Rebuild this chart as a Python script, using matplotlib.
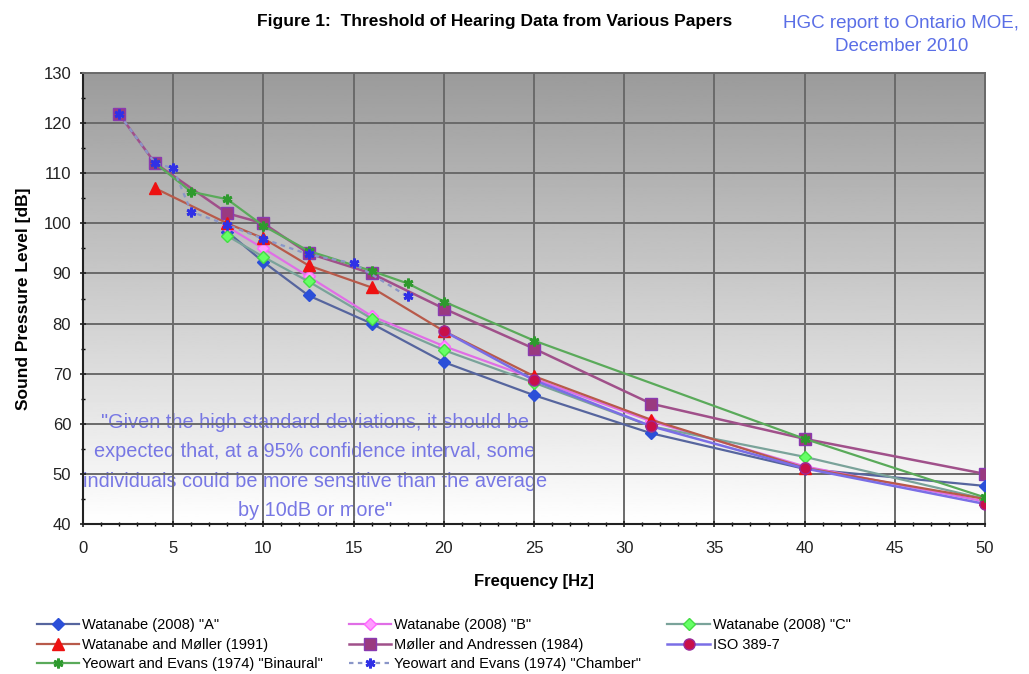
import numpy as np
import matplotlib
matplotlib.use("Agg")
import matplotlib.pyplot as plt

plt.rcParams['font.family'] = ['Liberation Sans', 'DejaVu Sans']

# Values (frequency in Hz, level in dB)
freq_wat = [8, 10, 12.5, 16, 20, 25, 31.5, 40, 50]
wat_a = [98.3, 92.3, 85.6, 80.0, 72.3, 65.7, 58.1, 51.0, 47.6]
wat_b = [99.3, 95.0, 89.4, 81.5, 75.5, 69.0, 60.5, 51.5, 44.5]
wat_c = [97.5, 93.3, 88.4, 81.0, 74.7, 68.2, 59.5, 53.4, 45.0]

freq_wm = [4, 8, 10, 12.5, 16, 20, 25, 31.5, 40, 50]
wat_moller = [107.0, 100.0, 97.0, 91.6, 87.2, 78.5, 69.5, 60.8, 51.2, 45.0]

freq_ma = [2, 4, 8, 10, 12.5, 16, 20, 25, 31.5, 40, 50]
moller_andressen = [121.8, 112.0, 102.0, 100.0, 94.0, 90.0, 83.0, 75.0, 64.0, 57.0, 50.0]

freq_iso = [20, 25, 31.5, 40, 50]
iso_389 = [78.5, 68.7, 59.5, 51.1, 44.0]

freq_bin = [4, 6, 8, 10, 12.5, 16, 18, 20, 25, 40, 50]
yeo_binaural = [112.0, 106.3, 104.8, 99.5, 94.5, 90.5, 88.0, 84.4, 76.6, 57.0, 45.3]

freq_ch = [2, 4, 5, 6, 8, 10, 12.5, 15, 18]
yeo_chamber = [121.8, 112.0, 111.0, 102.3, 99.7, 96.9, 93.8, 92.0, 85.4]

fig = plt.figure(figsize=(10.29, 6.74), dpi=100)
ax = fig.add_axes([83 / 1029, 1 - 524 / 674, (985 - 83) / 1029, (524 - 73) / 674])

# gradient background, grey at top to white at bottom
grad = np.linspace(0, 1, 256).reshape(-1, 1)
ax.imshow(grad, cmap=plt.cm.gray, vmin=-1.55, vmax=1.0, aspect='auto',
          extent=[0, 1, 0, 1], transform=ax.transAxes, zorder=0, origin='upper')

star = (6, 2, 0)
ms = 7
ax.plot(freq_wat, wat_a, color='#56659e', lw=1.6, marker='D', ms=6,
        mfc='#2b4fd8', mec='#2b4fd8', label='Watanabe (2008) "A"', zorder=5)
ax.plot(freq_wat, wat_b, color='#e06ee6', lw=1.6, marker='D', ms=6,
        mfc='#ff9cff', mec='#ff66ff', label='Watanabe (2008) "B"', zorder=5)
ax.plot(freq_wat, wat_c, color='#7aa39a', lw=1.6, marker='D', ms=6,
        mfc='#66ff66', mec='#44dd44', label='Watanabe (2008) "C"', zorder=5)
ax.plot(freq_wm, wat_moller, color='#b85a4a', lw=1.6, marker='^', ms=8,
        mfc='#ee1111', mec='#ee1111', label='Watanabe and Møller (1991)', zorder=5)
ax.plot(freq_ma, moller_andressen, color='#a0508a', lw=1.8, marker='s', ms=9,
        mfc='#9a3a80', mec='#8a3ab0', label='Møller and Andressen (1984)', zorder=4)
ax.plot(freq_iso, iso_389, color='#7a6ee6', lw=1.8, marker='o', ms=8,
        mfc='#c8104a', mec='#9a2a9a', label='ISO 389-7', zorder=5)
ax.plot(freq_bin, yeo_binaural, color='#5aaa5a', lw=1.6, marker=star, ms=ms,
        mew=2, mec='#2e9a2e', label='Yeowart and Evans (1974) "Binaural"', zorder=5)
ax.plot(freq_ch, yeo_chamber, color='#8a96c8', lw=1.6, ls=(0, (2, 2)), marker=star,
        ms=ms, mew=2, mec='#3030e6', label='Yeowart and Evans (1974) "Chamber"', zorder=5)

ax.set_xlim(0, 50)
ax.set_ylim(40, 130)
ax.set_xticks(np.arange(0, 51, 5))
ax.set_xticks(np.arange(0, 51, 1), minor=True)
ax.set_yticks(np.arange(40, 131, 10))
ax.set_yticks(np.arange(40, 131, 5), minor=True)
ax.grid(True, which='major', color='#6a6a6a', lw=1.4, zorder=1)
ax.set_axisbelow(True)
ax.tick_params(axis='both', which='major', labelsize=12, length=5, width=1.2,
               direction='inout', colors='#222222', pad=6)
ax.tick_params(axis='x', which='major', pad=10)
ax.tick_params(axis='both', which='minor', length=3, width=1, direction='inout')
for side in ['top', 'right']:
    ax.spines[side].set_color('#6a6a6a')
    ax.spines[side].set_linewidth(1.4)
for side in ['left', 'bottom']:
    ax.spines[side].set_color('#222222')
    ax.spines[side].set_linewidth(1.5)

ax.set_xlabel('Frequency [Hz]', fontsize=12, fontweight='bold', labelpad=13)
ax.set_ylabel('Sound Pressure Level [dB]', fontsize=12.5, fontweight='bold', labelpad=9)

# note sits under the grid lines, as in the reference
ax.text(0.257, 0.1275,
        '"Given the high standard deviations, it should be\n'
        'expected that, at a 95% confidence interval, some\n'
        'individuals could be more sensitive than the average\n'
        'by 10dB or more"',
        transform=ax.transAxes, ha='center', va='center', fontsize=14.3,
        color='#7777e4', linespacing=1.7, zorder=0.5)

fig.text(0.481, 0.968, 'Figure 1:  Threshold of Hearing Data from Various Papers',
         ha='center', va='center', fontsize=12.5, fontweight='bold')
fig.text(0.876, 0.948, 'HGC report to Ontario MOE,\nDecember 2010', ha='center',
         va='center', fontsize=13.5, color='#5a6ee6', linespacing=1.5)

handles, labels = ax.get_legend_handles_labels()
order = [0, 3, 6, 1, 4, 7, 2, 5]
fig.legend([handles[i] for i in order], [labels[i] for i in order],
           loc='upper left', bbox_to_anchor=(0.03, 0.092), ncol=3, frameon=False,
           fontsize=10.5, handlelength=2.9, columnspacing=1.8, labelspacing=0.4,
           handletextpad=0.2, borderaxespad=0)

fig.savefig('out.png', dpi=100)
